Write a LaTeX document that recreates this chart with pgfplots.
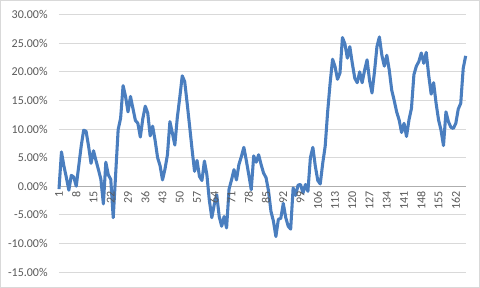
\documentclass[border=0pt]{standalone}
\usepackage{pgfplots}
\pgfplotsset{compat=1.18}
\usepackage{fontspec}
\setmainfont{Carlito}
\definecolor{lineblue}{HTML}{4A7EBF}
\definecolor{gridgray}{HTML}{D9D9D9}
\definecolor{labelgray}{HTML}{595959}
\pgfplotsset{
  common/.style={
    at={(44.25pt,12pt)}, anchor=south west,
    scale only axis, width=305pt, height=193pt,
    xmin=1, xmax=166, ymin=-15, ymax=30,
    major tick length=0pt,
    hide obscured x ticks=false,
    hide obscured y ticks=false,
    /pgf/number format/assume math mode=true,
    clip=false,
  },
}
\begin{document}
\begin{tikzpicture}
\useasboundingbox (0,0) rectangle (360pt,216pt);
\draw[gridgray, line width=0.6pt] (0.3pt,0.3pt) rectangle (359.7pt,215.7pt);
\begin{axis}[
  common,
  axis x line*=middle, axis y line*=left,
  y axis line style={draw=none},
  x axis line style={draw=gridgray!80!black, line width=0.6pt},
  ytick={-15,-10,...,30},
  xtick={1,8,...,162},
  xticklabels={},
  ymajorgrids, grid style={gridgray, line width=0.6pt},
  yticklabel={\pgfmathprintnumber[fixed,fixed zerofill,precision=2]{\tick}\%},
  yticklabel style={font=\fontsize{9}{10}\selectfont, text=labelgray, anchor=east, xshift=-5pt},
]
\addplot[lineblue, line width=2.3pt, line join=round, no marks] table {
x y
1 -0.5
2 6.0
3 3.5
4 1.5
5 -0.7
6 1.9
7 1.6
8 0.0
9 3.5
10 7.0
11 9.8
12 9.6
13 7.0
14 4.0
15 6.2
16 4.5
17 2.9
18 1.2
19 -3.1
20 4.2
21 2.0
22 1.2
23 -5.5
24 2.2
25 9.9
26 11.9
27 17.6
28 15.7
29 13.0
30 15.7
31 13.6
32 11.5
33 11.0
34 8.6
35 11.8
36 14.0
37 12.8
38 8.8
39 10.5
40 8.0
41 5.0
42 3.6
43 1.1
44 3.0
45 5.5
46 11.3
47 9.3
48 7.2
49 12.0
50 15.5
51 19.3
52 18.3
53 14.5
54 10.5
55 6.4
56 2.6
57 4.5
58 1.7
59 1.0
60 4.4
61 2.0
62 -2.5
63 -5.5
64 -3.2
65 -1.5
66 -5.3
67 -7.0
68 -5.3
69 -7.3
70 -0.5
71 1.1
72 2.9
73 1.1
74 3.8
75 5.2
76 6.8
77 4.5
78 2.0
79 -0.6
80 5.3
81 4.2
82 5.5
83 3.8
84 2.3
85 1.5
86 -0.8
87 -4.4
88 -6.1
89 -8.8
90 -5.8
91 -5.6
92 -3.0
93 -5.5
94 -7.0
95 -7.5
96 -0.3
97 -1.6
98 0.2
99 0.3
100 -1.2
101 0.3
102 -0.9
103 5.0
104 6.8
105 3.5
106 1.0
107 0.4
108 4.0
109 7.0
110 13.0
111 18.0
112 22.2
113 20.9
114 18.7
115 19.8
116 26.0
117 24.9
118 22.4
119 24.4
120 21.5
121 18.9
122 18.1
123 20.0
124 18.1
125 20.3
126 22.1
127 18.5
128 16.3
129 20.0
130 24.4
131 26.1
132 22.9
133 21.0
134 22.9
135 20.3
136 16.8
137 15.0
138 13.0
139 11.6
140 9.4
141 11.0
142 8.7
143 11.6
144 13.6
145 19.5
146 21.0
147 21.8
148 23.3
149 21.5
150 23.4
151 19.4
152 16.1
153 18.1
154 14.5
155 11.6
156 9.8
157 7.1
158 13.0
159 11.3
160 10.3
161 10.1
162 11.0
163 13.5
164 14.5
165 20.6
166 22.8
};
\end{axis}
\begin{axis}[
  common,
  axis x line*=middle, hide y axis,
  x axis line style={draw=none},
  xtick={1,8,...,162},
  xticklabel style={font=\fontsize{9}{10}\selectfont, text=labelgray, rotate=90, anchor=east},
]
\end{axis}
\end{tikzpicture}
\end{document}
